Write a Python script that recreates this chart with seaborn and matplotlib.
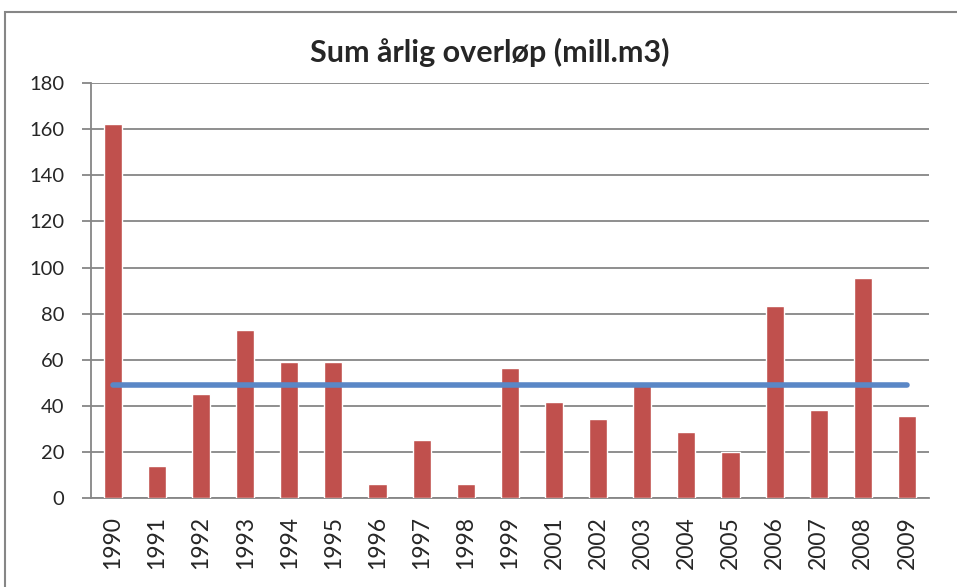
import numpy as np
import pandas as pd
import seaborn as sns
import matplotlib.pyplot as plt
from matplotlib.patches import Rectangle

# values
years = ["1990", "1991", "1992", "1993", "1994", "1995", "1996", "1997", "1998", "1999",
         "2001", "2002", "2003", "2004", "2005", "2006", "2007", "2008", "2009"]
overflow = [162.3, 14.0, 45.2, 72.8, 59.0, 59.0, 6.1, 25.1, 6.1, 56.5,
            41.7, 34.0, 50.1, 28.7, 20.0, 83.1, 38.1, 95.3, 35.5]
mean_line = [49.1] * len(years)

yticks = list(range(0, 181, 20))

df = pd.DataFrame({"Year": years, "Overflow": overflow, "Mean": mean_line})

sns.set_style("white")
plt.rcParams["font.family"] = ["Lato", "DejaVu Sans"]

grey = "#868686"
fig = plt.figure(figsize=(9.57, 5.87), dpi=100)
ax = fig.add_axes([0.0948, 0.152, 0.876, 0.706])

sns.barplot(data=df, x="Year", y="Overflow", color="#C0504D", saturation=1,
            width=0.41, ax=ax, zorder=3)
sns.lineplot(x=np.arange(len(years)), y=df["Mean"], color="#5A87C6", linewidth=4,
             solid_capstyle="round", ax=ax, zorder=4)

ax.set_ylim(0, 180)
ax.set_xlim(-0.5, len(years) - 0.5)
ax.set_yticks(yticks)
ax.yaxis.grid(True, color=grey, linewidth=1.3)
ax.set_axisbelow(True)
ax.set_xlabel("")
ax.set_ylabel("")

for side in ["top", "right"]:
    ax.spines[side].set_visible(False)
for side in ["left", "bottom"]:
    ax.spines[side].set_color(grey)
    ax.spines[side].set_linewidth(1.3)

ax.set_xticks(np.arange(-0.5, len(years)), minor=True)
ax.tick_params(axis="x", which="major", length=0, pad=13, labelsize=16.5, rotation=90)
ax.tick_params(axis="x", which="minor", length=5.8, color=grey, width=1.3, direction="out")
ax.tick_params(axis="y", length=6.5, color=grey, width=1.3, pad=12.5, labelsize=14.5, left=True)

fig.text(0.512, 0.895, "Sum årlig overløp (mill.m3)", ha="center", va="baseline",
         fontsize=22, fontweight="bold")

# chart border
fig.patches.append(Rectangle((5 / 957, -0.05), 1.1, 1 - 12 / 587 + 0.05,
                             transform=fig.transFigure, fill=False,
                             edgecolor=grey, linewidth=1.5))

fig.savefig("out.png", dpi=100)
